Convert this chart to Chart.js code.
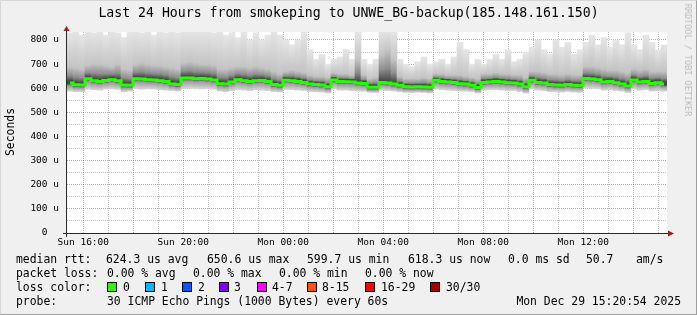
<!DOCTYPE html>
<html>
<head>
<meta charset="utf-8">
<title>smokeping</title>
<script src="https://cdn.jsdelivr.net/npm/chart.js@4.4.1/dist/chart.umd.min.js"></script>
<style>
  html, body { margin: 0; padding: 0; }
  body { width: 697px; height: 315px; overflow: hidden; position: relative; background: #f0f0f0;
         font-family: "DejaVu Sans Mono", monospace; color: #000; }
  #frame { position: absolute; left: 0; top: 0; width: 695px; height: 313px; border: 1px solid;
           border-color: #d6d6d6 #9e9e9e #9e9e9e #d6d6d6; }
  canvas { position: absolute; left: 0; top: 0; }
  .txt { position: absolute; white-space: pre; font-size: 11.4px; line-height: 14px; }
  #title { position: absolute; left: 0; width: 697px; top: 5px; text-align: center; white-space: pre;
           font-size: 13.2px; line-height: 16px; }
  #ylabel { position: absolute; left: 10px; top: 132px; white-space: pre; font-size: 11.4px;
            transform: translate(-50%, -50%) rotate(-90deg); }
  #mark { position: absolute; left: 688px; top: 60px; white-space: pre; font-size: 8.5px; color: #bcbcbc;
          transform: translate(-50%, -50%) rotate(90deg); }
  .box { position: absolute; top: 282px; width: 8px; height: 8px; border: 1px solid #000; }
</style>
</head>
<body>
<div id="frame"></div>
<canvas id="smoke" width="697" height="315"></canvas>

<div id="title">Last 24 Hours from smokeping to UNWE_BG-backup(185.148.161.150)</div>
<div id="ylabel">Seconds</div>
<div id="mark">RRDTOOL / TOBI OETIKER</div>

<div class="txt" style="left:16px;top:252px">median rtt:</div>
<div class="txt" style="left:106px;top:252px">624.3 us avg</div>
<div class="txt" style="left:207px;top:252px">650.6 us max</div>
<div class="txt" style="left:307px;top:252px">599.7 us min</div>
<div class="txt" style="left:408px;top:252px">618.3 us now</div>
<div class="txt" style="left:508px;top:252px">0.0 ms sd</div>
<div class="txt" style="left:586px;top:252px">50.7</div>
<div class="txt" style="left:636px;top:252px">am/s</div>

<div class="txt" style="left:16px;top:266px">packet loss:</div>
<div class="txt" style="left:107px;top:266px">0.00 % avg</div>
<div class="txt" style="left:193px;top:266px">0.00 % max</div>
<div class="txt" style="left:279px;top:266px">0.00 % min</div>
<div class="txt" style="left:365px;top:266px">0.00 % now</div>

<div class="txt" style="left:16px;top:280px">loss color:</div>
<div class="box" style="left:107px;background:#26ff00"></div><div class="txt" style="left:123px;top:280px">0</div>
<div class="box" style="left:145px;background:#00b8ff"></div><div class="txt" style="left:161px;top:280px">1</div>
<div class="box" style="left:182px;background:#0059ff"></div><div class="txt" style="left:198px;top:280px">2</div>
<div class="box" style="left:219px;background:#7e00ff"></div><div class="txt" style="left:234px;top:280px">3</div>
<div class="box" style="left:257px;background:#ff00ff"></div><div class="txt" style="left:272px;top:280px">4-7</div>
<div class="box" style="left:307px;background:#ff5500"></div><div class="txt" style="left:322px;top:280px">8-15</div>
<div class="box" style="left:365px;background:#ff0000"></div><div class="txt" style="left:381px;top:280px">16-29</div>
<div class="box" style="left:430px;background:#a10000"></div><div class="txt" style="left:446px;top:280px">30/30</div>

<div class="txt" style="left:16px;top:294px">probe:</div>
<div class="txt" style="left:107px;top:294px">30 ICMP Echo Pings (1000 Bytes) every 60s</div>
<div class="txt" style="right:16px;top:294px">Mon Dec 29 15:20:54 2025</div>

<script>
// one slot = 14.4 min, 100 slots = the last 24 hours (values in microseconds)
const startHour = 15 + 20 / 60 + 54 / 3600;   // Sun 15:20:54, hours since Sun 00:00
const slotHours = 0.24;

const median = [
  622, 614, 613, 639, 631, 628, 632, 635, 631, 613, 612, 639, 638, 635, 634, 631, 628,
  618, 615, 642, 642, 639, 640, 638, 634, 619, 617, 626, 635, 631, 628, 631, 632, 628,
  615, 612, 633, 631, 628, 624, 617, 615, 613, 606, 634, 628, 627, 626, 622, 620,
  604, 604, 624, 622, 617, 612, 606, 605, 606, 605, 604, 633, 628, 626, 624, 619, 617,
  612, 603, 624, 626, 628, 626, 623, 622, 617, 606, 633, 624, 622, 615, 613, 612, 615,
  612, 611, 640, 638, 635, 626, 628, 623, 617, 609, 634, 626, 628, 620, 623, 617
];
const smokeLow = [
  588, 585, 586, 596, 594, 592, 596, 597, 595, 585, 588, 598, 596, 597, 596, 594, 592,
  590, 588, 598, 600, 598, 597, 598, 595, 588, 586, 590, 594, 592, 590, 594, 592, 590,
  586, 584, 594, 594, 592, 590, 586, 585, 584, 580, 596, 592, 592, 590, 588, 587,
  583, 582, 592, 590, 588, 585, 582, 582, 583, 582, 580, 596, 594, 592, 590, 588, 587,
  586, 580, 592, 594, 594, 592, 590, 590, 586, 580, 598, 592, 590, 586, 585, 584, 586,
  584, 583, 600, 600, 598, 592, 594, 590, 588, 582, 596, 592, 594, 588, 590, 588
];
const smokeUpper = [
  690, 685, 680, 695, 700, 700, 695, 690, 700, 680, 675, 700, 705, 700, 695, 695, 690,
  685, 680, 705, 710, 705, 700, 700, 695, 680, 680, 685, 690, 690, 685, 690, 685, 680,
  670, 660, 670, 675, 670, 665, 655, 650, 650, 645, 665, 660, 660, 655, 720, 655,
  640, 645, 740, 760, 720, 650, 640, 640, 640, 645, 640, 660, 660, 655, 655, 655, 650,
  645, 640, 660, 660, 665, 660, 660, 655, 655, 645, 670, 670, 665, 660, 660, 655, 660,
  655, 655, 690, 690, 685, 680, 675, 675, 670, 665, 680, 675, 680, 670, 670, 670
];
const smokeHigh = [
  830, 840, 820, 840, 830, 840, 820, 840, 830, 810, 840, 840, 830, 840, 820, 840, 830,
  840, 830, 840, 840, 840, 840, 840, 830, 840, 820, 830, 810, 840, 800, 830, 800, 820,
  840, 820, 800, 780, 800, 840, 760, 720, 740, 700, 720, 730, 760, 720, 840, 720,
  700, 720, 840, 840, 840, 720, 700, 690, 710, 730, 700, 710, 720, 700, 730, 790, 760,
  700, 720, 700, 720, 740, 720, 760, 710, 720, 750, 770, 800, 760, 740, 800, 770, 790,
  740, 760, 790, 820, 780, 810, 770, 800, 780, 830, 780, 760, 820, 790, 760, 780
];

const yGrid = [0, 50, 100, 150, 200, 250, 300, 350, 400, 450, 500, 550, 600, 650, 700, 750, 800];
const xGrid = [16, 17, 18, 19, 20, 21, 22, 23, 24, 25, 26, 27, 28, 29, 30, 31, 32, 33, 34, 35, 36, 37, 38, 39];
const xLabelHours = [16, 20, 24, 28, 32, 36];
const xLabels = ['Sun 16:00', 'Sun 20:00', 'Mon 00:00', 'Mon 04:00', 'Mon 08:00', 'Mon 12:00'];

const slotTime = median.map((m, i) => startHour + slotHours * (i + 0.5));
const majorGrid = 'rgba(225, 70, 70, 0.55)';
const minorGrid = 'rgba(140, 140, 140, 0.5)';
const axisFont = { family: '"DejaVu Sans Mono", monospace', size: 9.5 };

// vertical shading of the smoke: dark around the median, pale towards the extremes
function smokeFill(c) {
    const chart = c.chart, y = chart.scales.y;
    if (!chart.chartArea || !y || c.type !== 'data') return '#cccccc';
    const i = c.dataIndex;
    const lo = y.getPixelForValue(smokeLow[i]), hi = y.getPixelForValue(smokeHigh[i]);
    const md = median[i], up = smokeUpper[i];
    const g = chart.ctx.createLinearGradient(0, lo, 0, hi);
    let last = 0;
    const stop = (v, col) => {
        let t = (lo - y.getPixelForValue(v)) / (lo - hi);
        t = Math.min(1, Math.max(last, t));
        last = t;
        g.addColorStop(t, col);
    };
    stop(smokeLow[i], '#d6d6d6');
    stop(md - 12, '#9c9c9c');
    stop(md - 3, '#444444');
    stop(md + 10, '#4c4c4c');
    stop(md + (up - md) * 0.45, '#8e8e8e');
    stop(up, '#c4c4c4');
    stop(smokeHigh[i], '#e6e6e6');
    return g;
}

const frame = {
    id: 'frame',
    beforeDraw(chart) {
        const { ctx, chartArea: a } = chart;
        ctx.save();
        ctx.fillStyle = '#ffffff';
        ctx.fillRect(a.left, a.top, a.right - a.left, a.bottom - a.top);
        ctx.restore();
    },
    afterDraw(chart) {
        const { ctx, chartArea: a } = chart;
        ctx.save();
        ctx.strokeStyle = '#2a2a2a';
        ctx.lineWidth = 1;
        ctx.beginPath();
        ctx.moveTo(a.left - 4, a.bottom + 0.5);
        ctx.lineTo(a.right + 2, a.bottom + 0.5);
        ctx.moveTo(a.left - 0.5, a.bottom + 4);
        ctx.lineTo(a.left - 0.5, a.top - 2);
        ctx.stroke();
        ctx.fillStyle = '#a31d1d';
        ctx.beginPath();
        ctx.moveTo(a.right + 7, a.bottom + 0.5);
        ctx.lineTo(a.right + 1, a.bottom - 2.5);
        ctx.lineTo(a.right + 1, a.bottom + 3.5);
        ctx.fill();
        ctx.beginPath();
        ctx.moveTo(a.left - 0.5, a.top - 6);
        ctx.lineTo(a.left - 3.5, a.top - 1);
        ctx.lineTo(a.left + 2.5, a.top - 1);
        ctx.fill();
        ctx.restore();
    }
};

new Chart("smoke", {
    type: "bar",
    data: {
        datasets: [{
            type: "line",
            label: "median rtt",
            order: 0,
            data: slotTime.map((t, i) => ({ x: t, y: median[i] })),
            borderColor: "#26ff00",
            borderWidth: 3,
            pointRadius: 0,
            stepped: "middle",
            fill: false,
        }, {
            type: "bar",
            label: "smoke",
            order: 1,
            data: slotTime.map((t, i) => ({ x: t, y: [smokeLow[i], smokeHigh[i]] })),
            backgroundColor: smokeFill,
            borderWidth: 0,
            barPercentage: 1,
            categoryPercentage: 1,
        }]
    },
    options: {
        responsive: false,
        animation: false,
        devicePixelRatio: 1,
        layout: { padding: { left: 0, right: 30, top: 32, bottom: 0 } },
        plugins: { legend: { display: false }, tooltip: { enabled: false }, title: { display: false } },
        scales: {
            x: {
                type: "linear",
                min: startHour,
                max: startHour + 24,
                offset: false,
                z: 1,
                afterBuildTicks: s => { s.ticks = xGrid.map(h => ({ value: h })); },
                afterFit: s => { s.height = 82; },
                grid: { offset: false, drawTicks: false, lineWidth: 1,
                        color: c => (c.tick && c.tick.value % 2 === 0) ? majorGrid : minorGrid },
                border: { display: false, dash: [1, 1] },
                ticks: {
                    autoSkip: false, maxRotation: 0, minRotation: 0, padding: 4, color: "#000", font: axisFont,
                    callback: v => { const k = xLabelHours.indexOf(v); return k < 0 ? "" : xLabels[k]; }
                }
            },
            y: {
                min: 0,
                max: 833,
                z: 1,
                afterBuildTicks: s => { s.ticks = yGrid.map(v => ({ value: v })); },
                afterFit: s => { s.width = 67; },
                grid: { drawTicks: false, lineWidth: 1,
                        color: c => (c.tick && c.tick.value % 100 === 0) ? majorGrid : minorGrid },
                border: { display: false, dash: [1, 1] },
                ticks: {
                    autoSkip: false, padding: 8, color: "#000", font: axisFont,
                    callback: v => v === 0 ? "0  " : (v % 100 === 0 ? v + " u" : "")
                }
            }
        }
    },
    plugins: [frame]
});
</script>
</body>
</html>
